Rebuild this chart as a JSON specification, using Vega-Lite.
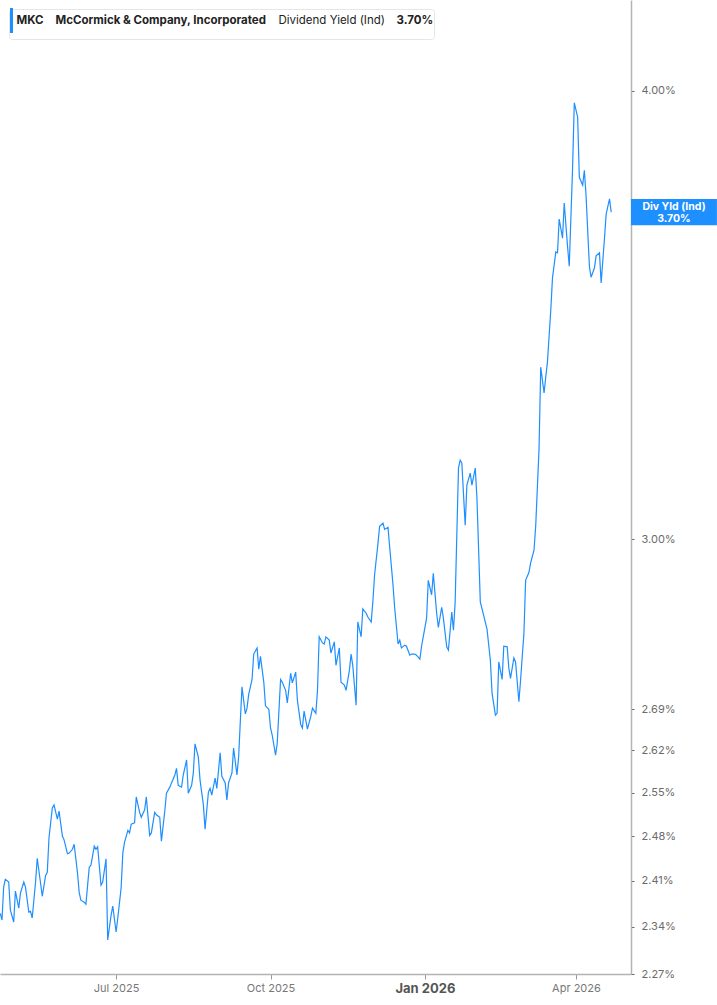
{
  "$schema": "https://vega.github.io/schema/vega-lite/v6.json",
  "description": "MKC dividend yield (indicated), log scale, right axis",
  "width": 631,
  "height": 974,
  "padding": 0,
  "background": "white",
  "config": {"view": {"stroke": null}, "font": "Inter"},
  "datasets": {
    "mkc": [
      {"date": "2025-04-23", "yield": 2.360}, {"date": "2025-04-24", "yield": 2.350}, {"date": "2025-04-25", "yield": 2.400},
      {"date": "2025-04-26", "yield": 2.412}, {"date": "2025-04-28", "yield": 2.408}, {"date": "2025-04-29", "yield": 2.365},
      {"date": "2025-05-01", "yield": 2.347}, {"date": "2025-05-02", "yield": 2.394}, {"date": "2025-05-04", "yield": 2.368},
      {"date": "2025-05-05", "yield": 2.391}, {"date": "2025-05-07", "yield": 2.408}, {"date": "2025-05-08", "yield": 2.400},
      {"date": "2025-05-10", "yield": 2.362}, {"date": "2025-05-11", "yield": 2.363}, {"date": "2025-05-12", "yield": 2.353},
      {"date": "2025-05-14", "yield": 2.408}, {"date": "2025-05-15", "yield": 2.445}, {"date": "2025-05-17", "yield": 2.406},
      {"date": "2025-05-18", "yield": 2.386}, {"date": "2025-05-20", "yield": 2.418}, {"date": "2025-05-21", "yield": 2.423},
      {"date": "2025-05-22", "yield": 2.477}, {"date": "2025-05-24", "yield": 2.525}, {"date": "2025-05-25", "yield": 2.530},
      {"date": "2025-05-27", "yield": 2.507}, {"date": "2025-05-28", "yield": 2.520}, {"date": "2025-05-30", "yield": 2.480},
      {"date": "2025-05-31", "yield": 2.474}, {"date": "2025-06-02", "yield": 2.452}, {"date": "2025-06-03", "yield": 2.453},
      {"date": "2025-06-05", "yield": 2.459}, {"date": "2025-06-06", "yield": 2.467}, {"date": "2025-06-08", "yield": 2.422},
      {"date": "2025-06-09", "yield": 2.392}, {"date": "2025-06-10", "yield": 2.380}, {"date": "2025-06-12", "yield": 2.377},
      {"date": "2025-06-13", "yield": 2.374}, {"date": "2025-06-15", "yield": 2.431}, {"date": "2025-06-16", "yield": 2.434},
      {"date": "2025-06-18", "yield": 2.464}, {"date": "2025-06-19", "yield": 2.459}, {"date": "2025-06-20", "yield": 2.463},
      {"date": "2025-06-22", "yield": 2.403}, {"date": "2025-06-23", "yield": 2.408}, {"date": "2025-06-25", "yield": 2.444},
      {"date": "2025-06-26", "yield": 2.320}, {"date": "2025-06-28", "yield": 2.357}, {"date": "2025-06-29", "yield": 2.371},
      {"date": "2025-07-01", "yield": 2.332}, {"date": "2025-07-02", "yield": 2.353}, {"date": "2025-07-04", "yield": 2.399},
      {"date": "2025-07-05", "yield": 2.453}, {"date": "2025-07-06", "yield": 2.470}, {"date": "2025-07-08", "yield": 2.489},
      {"date": "2025-07-09", "yield": 2.485}, {"date": "2025-07-10", "yield": 2.499}, {"date": "2025-07-12", "yield": 2.501},
      {"date": "2025-07-13", "yield": 2.543}, {"date": "2025-07-15", "yield": 2.518}, {"date": "2025-07-16", "yield": 2.510},
      {"date": "2025-07-18", "yield": 2.522}, {"date": "2025-07-19", "yield": 2.543}, {"date": "2025-07-21", "yield": 2.481},
      {"date": "2025-07-22", "yield": 2.485}, {"date": "2025-07-24", "yield": 2.518}, {"date": "2025-07-25", "yield": 2.514},
      {"date": "2025-07-27", "yield": 2.510}, {"date": "2025-07-28", "yield": 2.472}, {"date": "2025-07-30", "yield": 2.520},
      {"date": "2025-07-31", "yield": 2.549}, {"date": "2025-08-02", "yield": 2.559}, {"date": "2025-08-03", "yield": 2.566},
      {"date": "2025-08-05", "yield": 2.579}, {"date": "2025-08-06", "yield": 2.590}, {"date": "2025-08-07", "yield": 2.562},
      {"date": "2025-08-09", "yield": 2.559}, {"date": "2025-08-10", "yield": 2.579}, {"date": "2025-08-12", "yield": 2.604},
      {"date": "2025-08-13", "yield": 2.549}, {"date": "2025-08-15", "yield": 2.562}, {"date": "2025-08-16", "yield": 2.582},
      {"date": "2025-08-17", "yield": 2.631}, {"date": "2025-08-19", "yield": 2.609}, {"date": "2025-08-20", "yield": 2.571},
      {"date": "2025-08-22", "yield": 2.530}, {"date": "2025-08-23", "yield": 2.491}, {"date": "2025-08-25", "yield": 2.551},
      {"date": "2025-08-26", "yield": 2.557}, {"date": "2025-08-27", "yield": 2.546}, {"date": "2025-08-29", "yield": 2.574},
      {"date": "2025-08-30", "yield": 2.557}, {"date": "2025-09-01", "yield": 2.616}, {"date": "2025-09-02", "yield": 2.577},
      {"date": "2025-09-04", "yield": 2.566}, {"date": "2025-09-05", "yield": 2.538}, {"date": "2025-09-06", "yield": 2.566},
      {"date": "2025-09-08", "yield": 2.582}, {"date": "2025-09-09", "yield": 2.624}, {"date": "2025-09-11", "yield": 2.579},
      {"date": "2025-09-12", "yield": 2.609}, {"date": "2025-09-14", "yield": 2.729}, {"date": "2025-09-16", "yield": 2.682},
      {"date": "2025-09-17", "yield": 2.692}, {"date": "2025-09-18", "yield": 2.716}, {"date": "2025-09-20", "yield": 2.742},
      {"date": "2025-09-21", "yield": 2.787}, {"date": "2025-09-23", "yield": 2.798}, {"date": "2025-09-24", "yield": 2.760},
      {"date": "2025-09-25", "yield": 2.783}, {"date": "2025-09-27", "yield": 2.737}, {"date": "2025-09-28", "yield": 2.696},
      {"date": "2025-09-30", "yield": 2.690}, {"date": "2025-10-01", "yield": 2.658}, {"date": "2025-10-02", "yield": 2.646},
      {"date": "2025-10-04", "yield": 2.612}, {"date": "2025-10-05", "yield": 2.632}, {"date": "2025-10-07", "yield": 2.742},
      {"date": "2025-10-08", "yield": 2.737}, {"date": "2025-10-10", "yield": 2.723}, {"date": "2025-10-11", "yield": 2.701},
      {"date": "2025-10-13", "yield": 2.753}, {"date": "2025-10-14", "yield": 2.736}, {"date": "2025-10-16", "yield": 2.755},
      {"date": "2025-10-17", "yield": 2.706}, {"date": "2025-10-19", "yield": 2.664}, {"date": "2025-10-20", "yield": 2.658},
      {"date": "2025-10-21", "yield": 2.687}, {"date": "2025-10-23", "yield": 2.656}, {"date": "2025-10-25", "yield": 2.678},
      {"date": "2025-10-26", "yield": 2.692}, {"date": "2025-10-28", "yield": 2.683}, {"date": "2025-10-29", "yield": 2.723},
      {"date": "2025-10-30", "yield": 2.818}, {"date": "2025-11-01", "yield": 2.807}, {"date": "2025-11-02", "yield": 2.805},
      {"date": "2025-11-03", "yield": 2.818}, {"date": "2025-11-05", "yield": 2.812}, {"date": "2025-11-06", "yield": 2.789},
      {"date": "2025-11-08", "yield": 2.809}, {"date": "2025-11-09", "yield": 2.767}, {"date": "2025-11-11", "yield": 2.798},
      {"date": "2025-11-12", "yield": 2.737}, {"date": "2025-11-14", "yield": 2.732}, {"date": "2025-11-15", "yield": 2.723},
      {"date": "2025-11-17", "yield": 2.758}, {"date": "2025-11-18", "yield": 2.787}, {"date": "2025-11-19", "yield": 2.767},
      {"date": "2025-11-21", "yield": 2.697}, {"date": "2025-11-22", "yield": 2.845}, {"date": "2025-11-24", "yield": 2.818},
      {"date": "2025-11-25", "yield": 2.869}, {"date": "2025-11-27", "yield": 2.861}, {"date": "2025-11-28", "yield": 2.854},
      {"date": "2025-11-30", "yield": 2.845}, {"date": "2025-12-01", "yield": 2.883}, {"date": "2025-12-02", "yield": 2.932},
      {"date": "2025-12-04", "yield": 2.991}, {"date": "2025-12-05", "yield": 3.025}, {"date": "2025-12-07", "yield": 3.031},
      {"date": "2025-12-08", "yield": 3.019}, {"date": "2025-12-10", "yield": 3.023}, {"date": "2025-12-11", "yield": 2.985},
      {"date": "2025-12-13", "yield": 2.913}, {"date": "2025-12-14", "yield": 2.870}, {"date": "2025-12-16", "yield": 2.805},
      {"date": "2025-12-17", "yield": 2.812}, {"date": "2025-12-18", "yield": 2.798}, {"date": "2025-12-20", "yield": 2.803},
      {"date": "2025-12-21", "yield": 2.801}, {"date": "2025-12-23", "yield": 2.785}, {"date": "2025-12-24", "yield": 2.787},
      {"date": "2025-12-26", "yield": 2.787}, {"date": "2025-12-27", "yield": 2.785}, {"date": "2025-12-29", "yield": 2.778},
      {"date": "2025-12-30", "yield": 2.801}, {"date": "2025-12-31", "yield": 2.818}, {"date": "2026-01-02", "yield": 2.852},
      {"date": "2026-01-03", "yield": 2.922}, {"date": "2026-01-05", "yield": 2.895}, {"date": "2026-01-06", "yield": 2.935},
      {"date": "2026-01-08", "yield": 2.861}, {"date": "2026-01-09", "yield": 2.835}, {"date": "2026-01-11", "yield": 2.872},
      {"date": "2026-01-12", "yield": 2.852}, {"date": "2026-01-14", "yield": 2.800}, {"date": "2026-01-15", "yield": 2.794},
      {"date": "2026-01-17", "yield": 2.863}, {"date": "2026-01-18", "yield": 2.830}, {"date": "2026-01-19", "yield": 2.880},
      {"date": "2026-01-21", "yield": 3.140}, {"date": "2026-01-22", "yield": 3.156}, {"date": "2026-01-23", "yield": 3.150},
      {"date": "2026-01-25", "yield": 3.027}, {"date": "2026-01-26", "yield": 3.106}, {"date": "2026-01-28", "yield": 3.130},
      {"date": "2026-01-29", "yield": 3.106}, {"date": "2026-01-31", "yield": 3.140}, {"date": "2026-02-01", "yield": 3.080},
      {"date": "2026-02-03", "yield": 2.882}, {"date": "2026-02-05", "yield": 2.857}, {"date": "2026-02-07", "yield": 2.832},
      {"date": "2026-02-09", "yield": 2.776}, {"date": "2026-02-10", "yield": 2.718}, {"date": "2026-02-12", "yield": 2.680},
      {"date": "2026-02-13", "yield": 2.683}, {"date": "2026-02-14", "yield": 2.773}, {"date": "2026-02-16", "yield": 2.742},
      {"date": "2026-02-17", "yield": 2.801}, {"date": "2026-02-19", "yield": 2.800}, {"date": "2026-02-20", "yield": 2.762},
      {"date": "2026-02-21", "yield": 2.744}, {"date": "2026-02-23", "yield": 2.780}, {"date": "2026-02-24", "yield": 2.773},
      {"date": "2026-02-26", "yield": 2.703}, {"date": "2026-02-27", "yield": 2.741}, {"date": "2026-03-01", "yield": 2.825},
      {"date": "2026-03-02", "yield": 2.922}, {"date": "2026-03-04", "yield": 2.937}, {"date": "2026-03-05", "yield": 2.955},
      {"date": "2026-03-07", "yield": 2.979}, {"date": "2026-03-08", "yield": 3.025}, {"date": "2026-03-10", "yield": 3.179},
      {"date": "2026-03-11", "yield": 3.350}, {"date": "2026-03-13", "yield": 3.295}, {"date": "2026-03-14", "yield": 3.329},
      {"date": "2026-03-15", "yield": 3.361}, {"date": "2026-03-17", "yield": 3.475}, {"date": "2026-03-18", "yield": 3.547},
      {"date": "2026-03-20", "yield": 3.607}, {"date": "2026-03-21", "yield": 3.605}, {"date": "2026-03-22", "yield": 3.684},
      {"date": "2026-03-24", "yield": 3.639}, {"date": "2026-03-25", "yield": 3.722}, {"date": "2026-03-27", "yield": 3.619},
      {"date": "2026-03-28", "yield": 3.574}, {"date": "2026-03-30", "yield": 3.809}, {"date": "2026-03-31", "yield": 3.969},
      {"date": "2026-04-02", "yield": 3.933}, {"date": "2026-04-03", "yield": 3.784}, {"date": "2026-04-05", "yield": 3.765},
      {"date": "2026-04-06", "yield": 3.801}, {"date": "2026-04-07", "yield": 3.741}, {"date": "2026-04-09", "yield": 3.574},
      {"date": "2026-04-10", "yield": 3.549}, {"date": "2026-04-12", "yield": 3.570}, {"date": "2026-04-13", "yield": 3.598},
      {"date": "2026-04-15", "yield": 3.605}, {"date": "2026-04-16", "yield": 3.536}, {"date": "2026-04-18", "yield": 3.639},
      {"date": "2026-04-19", "yield": 3.696}, {"date": "2026-04-21", "yield": 3.732}, {"date": "2026-04-22", "yield": 3.700}
    ]
  },
  "layer": [
    {
      "data": {"name": "mkc"},
      "mark": {"type": "line", "strokeWidth": 1.2, "clip": true},
      "encoding": {
        "x": {
          "field": "date",
          "type": "temporal",
          "scale": {
            "type": "utc",
            "domain": [
              {"year": 2025, "month": 4, "date": 22, "hours": 19, "minutes": 40, "utc": true},
              {"year": 2026, "month": 5, "date": 3, "hours": 19, "utc": true}
            ]
          },
          "axis": {
            "title": null,
            "grid": false,
            "values": [
              {"year": 2025, "month": 7, "date": 1, "utc": true},
              {"year": 2025, "month": 10, "date": 1, "utc": true},
              {"year": 2026, "month": 1, "date": 1, "utc": true},
              {"year": 2026, "month": 4, "date": 1, "utc": true}
            ],
            "format": "%b %Y",
            "domainColor": "#b3b3b3",
            "domainWidth": 1.5,
            "tickColor": "#999999",
            "tickSize": 5,
            "labelPadding": 3,
            "labelFont": "Inter",
            "labelFontSize": {"condition": {"test": "utcmonth(datum.value) == 0", "value": 13}, "value": 11},
            "labelFontWeight": {"condition": {"test": "utcmonth(datum.value) == 0", "value": 700}, "value": 400},
            "labelColor": {"condition": {"test": "utcmonth(datum.value) == 0", "value": "#555555"}, "value": "#777777"},
            "labelFlush": false,
            "labelOverlap": false
          }
        },
        "y": {
          "field": "yield",
          "type": "quantitative",
          "scale": {"type": "log", "domain": [2.27, 4.2396], "nice": false, "zero": false},
          "axis": {
            "orient": "right",
            "title": null,
            "grid": false,
            "values": [2.27, 2.34, 2.41, 2.48, 2.55, 2.62, 2.69, 3.0, 4.0],
            "labelExpr": "format(datum.value, '.2f') + '%'",
            "domainColor": "#b3b3b3",
            "domainWidth": 1.5,
            "tickColor": "#666666",
            "tickSize": 3,
            "labelPadding": 7,
            "labelFont": "Inter",
            "labelFontSize": 11,
            "labelColor": "#6b6b6b",
            "labelOverlap": false
          }
        },
        "color": {
          "datum": "MKC",
          "type": "nominal",
          "scale": {
            "domain": ["MKC", "McCormick & Company, Incorporated", "Dividend Yield (Ind)", "3.70%"],
            "range": ["#1e8fff", "transparent", "transparent", "transparent"]
          },
          "legend": {
            "title": null,
            "orient": "top-left",
            "offset": 9,
            "direction": "horizontal",
            "padding": 0,
            "strokeColor": "#e6e6e6",
            "fillColor": "white",
            "cornerRadius": 3,
            "symbolType": "M-0.9,-1.25V1.25",
            "symbolSize": 400,
            "symbolStrokeWidth": 3,
            "labelFont": "Inter",
            "labelFontSize": 11.5,
            "labelColor": "#222222",
            "labelOffset": -15.5,
            "columnPadding": 0,
            "labelLimit": 400,
            "labelExpr": "datum.label == '3.70%' ? '3.70%\u00a0\u00a0' : datum.label",
            "encode": {
              "labels": {
                "update": {
                  "fontWeight": {"signal": "datum.value === 'Dividend Yield (Ind)' ? 400 : 700"}
                }
              }
            }
          }
        }
      }
    },
    {
      "data": {"values": [{}]},
      "mark": {"type": "rect", "color": "#1e8fff"},
      "encoding": {
        "x": {"datum": {"year": 2026, "month": 5, "date": 3, "hours": 19, "utc": true}, "type": "temporal"},
        "x2": {"datum": {"year": 2026, "month": 6, "date": 24, "utc": true}},
        "y": {"datum": 3.7316, "type": "quantitative"},
        "y2": {"datum": 3.6694}
      }
    },
    {
      "data": {"values": [{"yield": 3.70}]},
      "mark": {
        "type": "text",
        "text": ["Div Yld (Ind)", "3.70%"],
        "color": "white",
        "font": "Inter",
        "fontSize": 10.5,
        "fontWeight": 700,
        "align": "center",
        "baseline": "middle",
        "lineHeight": 11.5,
        "dy": -5
      },
      "encoding": {
        "x": {"datum": {"year": 2026, "month": 5, "date": 29, "hours": 10, "utc": true}, "type": "temporal"},
        "y": {"field": "yield", "type": "quantitative"}
      }
    }
  ]
}
